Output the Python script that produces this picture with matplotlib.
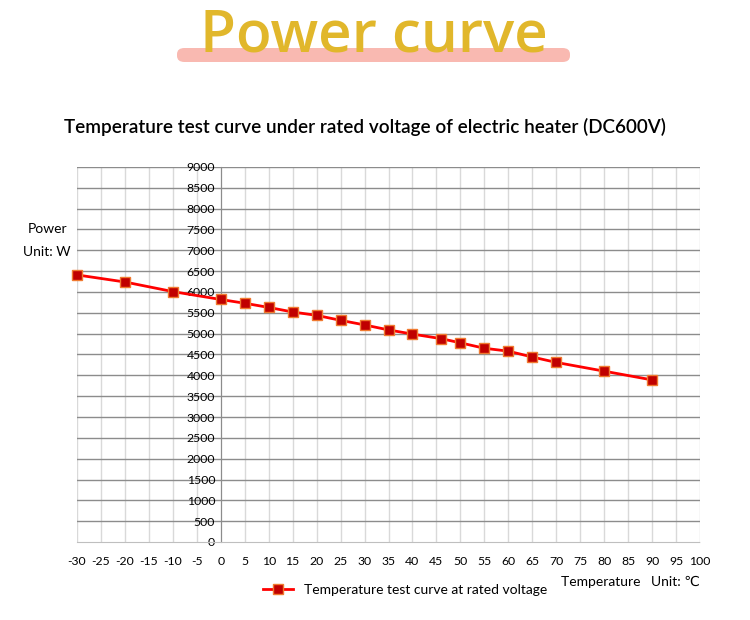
import matplotlib.pyplot as plt
from matplotlib.patches import FancyBboxPatch

# temperature (°C) and measured power (W)
temps = [-30, -20, -10, 0, 5, 10, 15, 20, 25, 30, 35, 40, 46, 50, 55, 60, 65, 70, 80, 90]
power = [6410, 6240, 6010, 5820, 5730, 5630, 5520, 5440, 5320, 5210,
         5090, 4990, 4880, 4780, 4650, 4580, 4440, 4310, 4100, 3890]

x_ticks = list(range(-30, 101, 5))
y_ticks = list(range(0, 9001, 500))

plt.rcParams['font.family'] = ['Lato', 'DejaVu Sans']
plt.rcParams['axes.unicode_minus'] = False

fig = plt.figure(figsize=(7.5, 6.2), dpi=100)

# big heading with pink highlight bar
fig.patches.append(FancyBboxPatch((177 / 750, 1 - 62 / 620), 393 / 750, 14 / 620,
                                  boxstyle="round,pad=0,rounding_size=0.01",
                                  transform=fig.transFigure, fc='#f9b9b1', ec='none'))
fig.text(0.498, 1 - 37 / 620, "Power curve", ha='center', va='center',
         fontsize=42, fontweight='semibold', color='#e1b72b',
         family=['Open Sans', 'DejaVu Sans'])

fig.text(0.487, 1 - 127 / 620, "Temperature test curve under rated voltage of electric heater (DC600V)",
         ha='center', va='center', fontsize=13.6, fontweight='semibold', color='black')

ax = fig.add_axes([77 / 750, 78 / 620, 623 / 750, 375 / 620])
ax.set_xlim(-30, 100)
ax.set_ylim(0, 9000)

for xv in x_ticks:
    ax.axvline(xv, color='#d9d9d9', lw=1, zorder=0)
for yv in y_ticks[1:]:
    ax.axhline(yv, color='#8c8c8c', lw=1, zorder=0)

ax.spines['left'].set_position(('data', 0))
ax.spines['left'].set_color('#8c8c8c')
ax.spines['right'].set_visible(False)
ax.spines['top'].set_visible(False)
ax.spines['bottom'].set_color('#bfbfbf')
ax.spines['bottom'].set_linestyle((0, (2, 1)))

ax.set_xticks(x_ticks)
ax.set_yticks(y_ticks)
ax.tick_params(axis='both', length=0, labelsize=8.8)
ax.tick_params(axis='x', pad=10)
ax.tick_params(axis='y', pad=4)

ax.plot(temps, power, color='#ff0000', lw=2, marker='s', markersize=7,
        markerfacecolor='#c00000', markeredgecolor='#f07a30', markeredgewidth=1,
        label='Temperature test curve at rated voltage', zorder=3, clip_on=False)

fig.text(48 / 750, 1 - 229 / 620, "Power", ha='center', va='center', fontsize=10)
fig.text(47 / 750, 1 - 252 / 620, "Unit: W", ha='center', va='center', fontsize=10)
fig.text(700 / 750, 1 - 582 / 620, "Temperature   Unit: \u2103", ha='right', va='center', fontsize=10)

fig.legend(loc='center', bbox_to_anchor=(405 / 750, 1 - 590 / 620), frameon=False,
           fontsize=10, handlelength=2.2)

fig.savefig('out.png', dpi=100)
